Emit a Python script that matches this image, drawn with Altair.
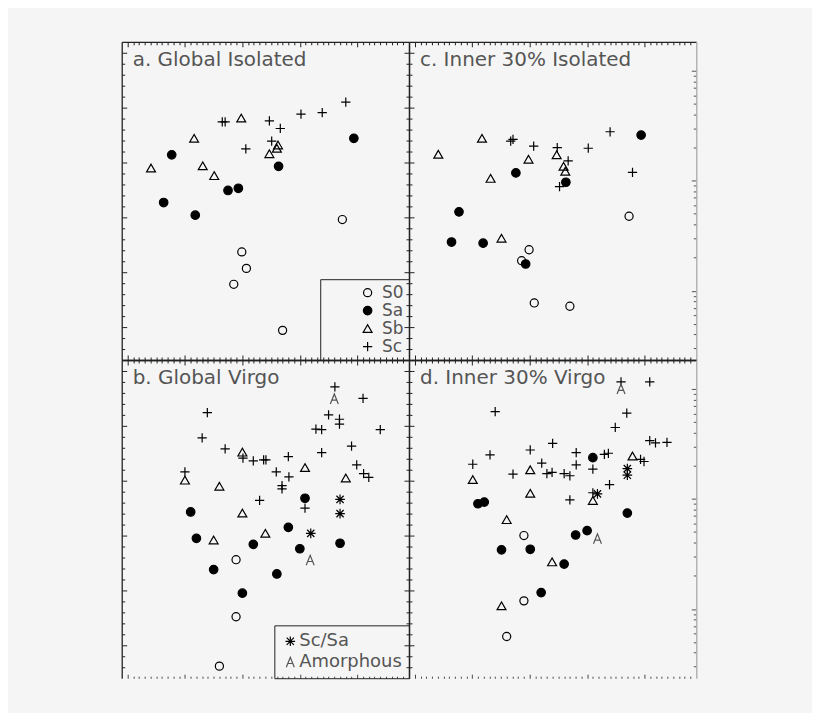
import altair as alt
import pandas as pd

TYPES = ["S0", "Sa", "Sb", "Sc", "Sc/Sa", "Amorphous"]
PLUS = "M-1,0H1M0,-1V1"
AST = "M-1,0H1M0,-1V1M-0.75,-0.75L0.75,0.75M-0.75,0.75L0.75,-0.75"
APATH = "M-0.8,1L0,-1L0.8,1M-0.5,0.25H0.5"
SHAPES = ["circle", "circle", "triangle-up", PLUS, AST, APATH]
FILLS = ["transparent", "#000", "transparent", "transparent", "transparent", "transparent"]
STROKES = ["#000", "#000", "#000", "#000", "#000", "#555"]
SIZES = [66, 100, 100, 81, 121, 169]

TITLES = {"a": "a. Global Isolated", "c": "c. Inner 30% Isolated",
          "b": "b. Global Virgo", "d": "d. Inner 30% Virgo"}

# ---- panel a : Global Isolated
a_S0_x = [3.74, 1.99, 2.07, 1.85, 2.70]
a_S0_y = [1.96, 1.37, 1.07, 0.78, -0.06]
a_Sa_x = [0.77, 0.63, 1.18, 1.75, 1.93, 2.63, 3.94]
a_Sa_y = [3.14, 2.27, 2.04, 2.49, 2.53, 2.93, 3.44]
a_Sb_x = [0.41, 1.16, 1.98, 1.31, 1.51, 2.47, 2.60, 2.62]
a_Sb_y = [2.90, 3.44, 3.81, 2.94, 2.76, 3.16, 3.26, 3.32]
a_Sc_x = [1.65, 1.70, 2.47, 2.66, 2.06, 2.51, 3.02, 3.39, 3.80]
a_Sc_y = [3.74, 3.74, 3.76, 3.62, 3.25, 3.39, 3.88, 3.91, 4.10]

# ---- panel c : Inner 30% Isolated
c_S0_x = [3.73, 1.99, 1.86, 2.08, 2.70]
c_S0_y = [2.02, 1.41, 1.21, 0.44, 0.38]
c_Sa_x = [1.76, 2.63, 0.77, 0.64, 1.19, 1.93, 3.94]
c_Sa_y = [2.81, 2.64, 2.10, 1.55, 1.53, 1.15, 3.50]
c_Sb_x = [0.41, 1.17, 1.32, 1.98, 2.47, 2.59, 2.62, 1.51]
c_Sb_y = [3.15, 3.44, 2.71, 3.06, 3.14, 2.93, 2.84, 1.62]
c_Sc_x = [1.67, 1.71, 2.07, 2.48, 2.67, 3.02, 3.40, 3.79, 2.52]
c_Sc_y = [3.39, 3.42, 3.30, 3.27, 3.03, 3.26, 3.56, 2.82, 2.56]

# ---- panel b : Global Virgo
b_S0_x = [1.89, 1.89, 1.60]
b_S0_y = [1.56, 0.52, -0.38]
b_Sa_x = [3.09, 1.10, 2.80, 1.20, 2.19, 3.70, 3.00, 1.50, 2.60, 2.00]
b_Sa_y = [2.68, 2.43, 2.15, 1.95, 1.84, 1.86, 1.76, 1.38, 1.30, 0.95]
b_Sb_x = [2.00, 3.09, 3.80, 1.00, 1.60, 2.00, 2.40, 1.50]
b_Sb_y = [3.52, 3.24, 3.05, 3.01, 2.90, 2.41, 2.04, 1.92]
b_Sc_x = [3.61, 4.10, 1.39, 3.50, 3.69, 3.69, 1.30, 3.28, 3.38, 4.40, 3.90, 1.70, 3.38, 2.01,
          2.19, 2.37, 2.41, 2.80, 2.59, 2.81, 3.99, 4.11, 4.20, 2.69, 2.69, 2.30, 3.09, 1.00]
b_Sc_y = [4.71, 4.50, 4.24, 4.20, 4.12, 4.03, 3.78, 3.94, 3.93, 3.93, 3.63, 3.58, 3.51, 3.41,
          3.36, 3.38, 3.38, 3.44, 3.16, 3.07, 3.29, 3.13, 3.06, 2.91, 2.85, 2.64, 2.50, 3.16]
b_ScSa_x = [3.70, 3.70, 3.19]
b_ScSa_y = [2.66, 2.40, 2.04]
b_A_x = [3.60, 3.18]
b_A_y = [4.49, 1.55]

# ---- panel d : Inner 30% Virgo
d_S0_x = [1.90, 1.90, 1.60]
d_S0_y = [2.00, 0.81, 0.16]
d_Sa_x = [3.10, 1.10, 1.21, 3.70, 2.80, 3.00, 1.51, 2.01, 2.60, 2.20]
d_Sa_y = [3.42, 2.58, 2.61, 2.41, 2.01, 2.09, 1.74, 1.75, 1.48, 0.96]
d_Sb_x = [3.79, 2.01, 1.01, 2.01, 3.10, 1.60, 2.39, 1.51]
d_Sb_y = [3.45, 3.20, 3.02, 2.77, 2.64, 2.29, 1.52, 0.72]
d_Sc_x = [3.59, 4.09, 1.40, 3.69, 3.49, 1.31, 1.01, 2.01, 2.40, 2.81, 2.21, 1.71, 2.30, 2.39,
          2.60, 2.70, 2.81, 3.10, 3.30, 3.37, 4.09, 4.19, 4.39, 3.93, 3.99, 2.70, 3.39, 3.10]
d_Sc_y = [4.80, 4.80, 4.26, 4.23, 3.97, 3.47, 3.30, 3.56, 3.68, 3.51, 3.32, 3.12, 3.13, 3.15,
          3.13, 3.09, 3.29, 3.21, 3.48, 3.50, 3.73, 3.69, 3.70, 3.39, 3.35, 2.65, 2.93, 2.78]
d_ScSa_x = [3.70, 3.70, 3.18]
d_ScSa_y = [3.22, 3.10, 2.76]
d_A_x = [3.59, 3.18]
d_A_y = [4.67, 1.94]

# ---- axis tick values
X_MAJ = [0, 1, 2, 3, 4]
X_MIN = [round(-0.1 + 0.1 * i, 2) for i in range(1, 50) if i % 10 != 1]
Y_MAJ = [0, 1, 2, 3, 4, 5]
Y_MIN = [round(-0.6 + 0.2 * i, 2) for i in range(1, 29) if (i - 3) % 5 != 0]
LOG_MAJ = [1, 10, 100]
LOG_MIN = [0.3, 0.4, 0.5, 0.6, 0.7, 0.8, 0.9, 2, 3, 4, 5, 6, 7, 8, 9,
           20, 30, 40, 50, 60, 70, 80, 90]

W, H = 288, 319
XSC = alt.Scale(domain=[-0.1, 4.9], nice=False, zero=False)
YSC = alt.Scale(domain=[-0.6, 5.2], nice=False, zero=False)
LSC = alt.Scale(type="log", domain=[0.2344, 183.5], nice=False)

rows = []


def add(panel, typ, xs, ys):
    for x, y in zip(xs, ys):
        rows.append({"panel": panel, "type": typ, "x": x, "y": y})


add("a", "S0", a_S0_x, a_S0_y); add("a", "Sa", a_Sa_x, a_Sa_y)
add("a", "Sb", a_Sb_x, a_Sb_y); add("a", "Sc", a_Sc_x, a_Sc_y)
add("c", "S0", c_S0_x, c_S0_y); add("c", "Sa", c_Sa_x, c_Sa_y)
add("c", "Sb", c_Sb_x, c_Sb_y); add("c", "Sc", c_Sc_x, c_Sc_y)
add("b", "S0", b_S0_x, b_S0_y); add("b", "Sa", b_Sa_x, b_Sa_y)
add("b", "Sb", b_Sb_x, b_Sb_y); add("b", "Sc", b_Sc_x, b_Sc_y)
add("b", "Sc/Sa", b_ScSa_x, b_ScSa_y); add("b", "Amorphous", b_A_x, b_A_y)
add("d", "S0", d_S0_x, d_S0_y); add("d", "Sa", d_Sa_x, d_Sa_y)
add("d", "Sb", d_Sb_x, d_Sb_y); add("d", "Sc", d_Sc_x, d_Sc_y)
add("d", "Sc/Sa", d_ScSa_x, d_ScSa_y); add("d", "Amorphous", d_A_x, d_A_y)
df = pd.DataFrame(rows)

DARK = "#222"


def tick_axis(orient, values, size, color=DARK):
    return alt.Axis(orient=orient, values=values, tickSize=size, offset=-size,
                    ticks=True, domain=False, labels=False, grid=False, title=None,
                    tickColor=color, tickWidth=1)


def frame_axis(orient, color=DARK):
    return alt.Axis(orient=orient, ticks=False, domain=True, labels=False, grid=False,
                    title=None, domainColor=color, domainWidth=1.3)


def axis_child(xaxis, yaxis, ysc=YSC, ydatum=0):
    return alt.Chart().mark_point(opacity=0, size=1).encode(
        x=alt.X(datum=0, type="quantitative", scale=XSC, axis=xaxis),
        y=alt.Y(datum=ydatum, type="quantitative", scale=ysc, axis=yaxis),
    )


def make_legend(key):
    if key == "a":
        return alt.Legend(values=["S0", "Sa", "Sb", "Sc"], orient="bottom-right", offset=0,
                          title=None, strokeColor=DARK, padding=5, labelFont="DejaVu Sans",
                          labelFontSize=17, labelColor="#555", labelOffset=6, rowPadding=0,
                          symbolOffset=34, symbolStrokeWidth=1.2)
    if key == "b":
        return alt.Legend(values=["Sc/Sa", "Amorphous"], orient="bottom-right", offset=0,
                          title=None, strokeColor=DARK, padding=7, labelFont="DejaVu Sans",
                          labelFontSize=18, labelColor="#555", labelOffset=0, rowPadding=3,
                          symbolStrokeWidth=1.2)
    return None


def panel(key, right_side, bottom_row):
    dfp = df[df["panel"] == key]
    leg = make_legend(key)
    pts = alt.Chart(dfp).mark_point(filled=False, opacity=1, strokeWidth=1.2).encode(
        x=alt.X("x:Q", scale=XSC, axis=None),
        y=alt.Y("y:Q", scale=YSC, axis=None),
        shape=alt.Shape("type:N", scale=alt.Scale(domain=TYPES, range=SHAPES), legend=leg),
        fill=alt.Fill("type:N", scale=alt.Scale(domain=TYPES, range=FILLS), legend=leg),
        stroke=alt.Stroke("type:N", scale=alt.Scale(domain=TYPES, range=STROKES), legend=leg),
        size=alt.Size("type:N", scale=alt.Scale(domain=TYPES, range=SIZES), legend=leg),
    )
    title = alt.Chart(pd.DataFrame({"t": [TITLES[key]]})).mark_text(
        align="left", baseline="alphabetic", font="DejaVu Sans", fontSize=20, color="#555"
    ).encode(x=alt.value(11), y=alt.value(24), text="t:N")

    bmaj, bmin = (4, 2) if bottom_row else (5, 3)
    bcol = "#444" if bottom_row else DARK
    layers = [
        pts, title,
        axis_child(tick_axis("bottom", X_MAJ, bmaj, bcol), tick_axis("left", Y_MAJ, 5)),
        axis_child(tick_axis("bottom", X_MIN, bmin, bcol), tick_axis("left", Y_MIN, 3)),
    ]
    if right_side:
        layers += [
            axis_child(tick_axis("top", X_MAJ, 5), tick_axis("right", LOG_MAJ, 5, "#555"), LSC, 1),
            axis_child(tick_axis("top", X_MIN, 3), tick_axis("right", LOG_MIN, 3, "#555"), LSC, 1),
            axis_child(None if bottom_row else frame_axis("bottom"), frame_axis("left")),
            axis_child(frame_axis("top"), frame_axis("right", "#aaa")),
        ]
    else:
        layers += [
            axis_child(tick_axis("top", X_MAJ, 5), tick_axis("right", Y_MAJ, 5)),
            axis_child(tick_axis("top", X_MIN, 3), tick_axis("right", Y_MIN, 3)),
            axis_child(None if bottom_row else frame_axis("bottom"), frame_axis("left")),
            axis_child(frame_axis("top"), frame_axis("right")),
        ]
    ch = alt.layer(*layers).resolve_axis(x="independent", y="independent")
    if right_side:
        ch = ch.resolve_scale(y="independent")
    return ch.properties(width=W, height=H)


chart = alt.concat(
    panel("a", False, False), panel("c", True, False),
    panel("b", False, True), panel("d", True, True),
    columns=2, spacing=0, bounds="flush",
).resolve_scale(
    shape="independent", fill="independent", stroke="independent", size="independent"
).resolve_legend(
    shape="independent", fill="independent", stroke="independent", size="independent"
).properties(
    padding={"left": 113, "top": 32, "right": 115, "bottom": 33},
    background="#f5f5f5",
).configure_view(stroke=None)

chart.save("out.html", embed_options={"renderer": "svg", "actions": False})
